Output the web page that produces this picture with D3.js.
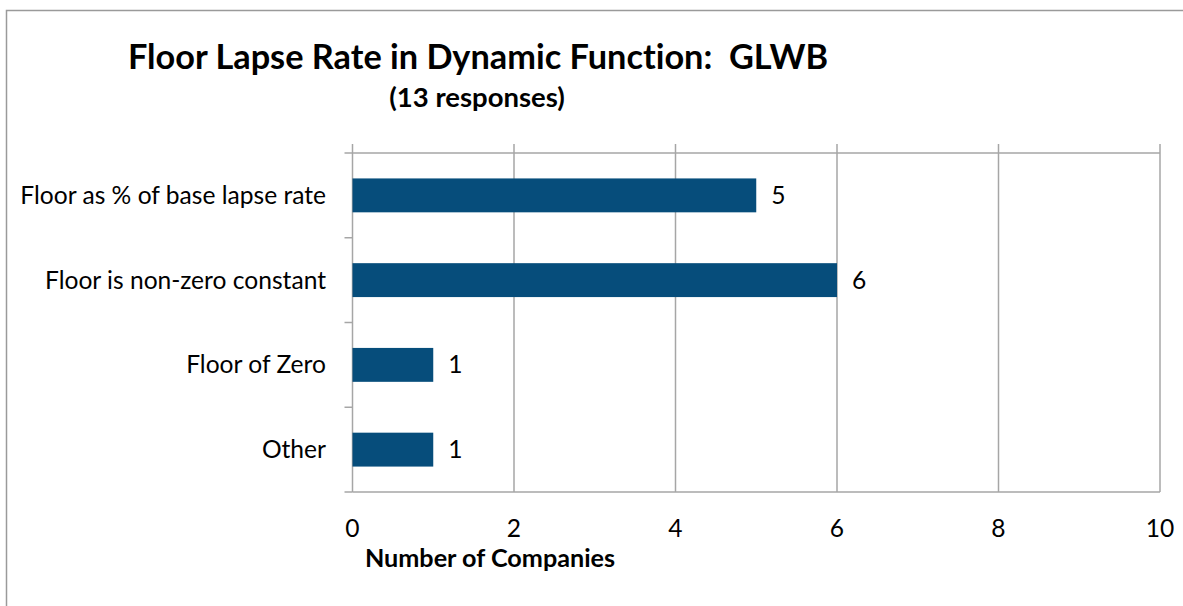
<!DOCTYPE html>
<html>
<head>
<meta charset="utf-8">
<script src="https://cdn.jsdelivr.net/npm/d3@7"></script>
<style>
  body { margin: 0; background: #fff; }
  svg text { font-family: Lato, "Open Sans", sans-serif; fill: #000; font-variant-ligatures: none; }
</style>
</head>
<body>
<div id="chart"></div>
<script>
const categories = ['Floor as % of base lapse rate', 'Floor is non-zero constant', 'Floor of Zero', 'Other'];
const counts = [5, 6, 1, 1];
const xTicks = [0, 2, 4, 6, 8, 10];
const title = 'Floor Lapse Rate in Dynamic Function:  GLWB';
const subtitle = '(13 responses)';
const xTitle = 'Number of Companies';

const width = 1183;
const height = 606;
const plotLeft = 352.5;
const plotRight = 1160;
const plotTop = 153;
const plotBottom = 492;
const gridColor = '#a6a6a6';
const barColor = '#064d7b';
const labelSize = 24.6;

const svg = d3.select('#chart')
    .append('svg')
    .attr('width', width)
    .attr('height', height);

// outer chart border (right and bottom edges fall outside the picture)
svg.append('path')
    .attr('d', `M6.5,${height + 5} V10.5 H${width + 5}`)
    .attr('fill', 'none')
    .attr('stroke', '#9a9a9a')
    .attr('stroke-width', 1.5);

const xScale = d3.scaleLinear()
    .domain([0, 10])
    .range([plotLeft, plotRight]);

const yScale = d3.scaleBand()
    .domain(categories)
    .range([plotTop, plotBottom])
    .paddingInner(0.6)
    .paddingOuter(0.3);

// vertical gridlines
svg.selectAll('.vgrid')
    .data(xTicks)
    .enter()
    .append('line')
    .attr('class', 'vgrid')
    .attr('x1', d => xScale(d))
    .attr('x2', d => xScale(d))
    .attr('y1', plotTop - 9)
    .attr('y2', plotBottom)
    .attr('stroke', gridColor)
    .attr('stroke-width', 1.5);

// top and bottom horizontal lines
svg.selectAll('.hline')
    .data([plotTop, plotBottom])
    .enter()
    .append('line')
    .attr('class', 'hline')
    .attr('x1', plotLeft)
    .attr('x2', plotRight)
    .attr('y1', d => d)
    .attr('y2', d => d)
    .attr('stroke', gridColor)
    .attr('stroke-width', 1.5);

// category tick marks
const bandEdges = categories.map(c => yScale(c) - yScale.step() * yScale.paddingInner() / 2);
bandEdges[0] = plotTop;
bandEdges.push(plotBottom);
svg.selectAll('.ytick')
    .data(bandEdges)
    .enter()
    .append('line')
    .attr('class', 'ytick')
    .attr('x1', plotLeft - 8)
    .attr('x2', plotLeft)
    .attr('y1', d => d)
    .attr('y2', d => d)
    .attr('stroke', gridColor)
    .attr('stroke-width', 1.5);

// bars
svg.selectAll('.bar')
    .data(counts)
    .enter()
    .append('rect')
    .attr('class', 'bar')
    .attr('x', xScale(0))
    .attr('y', (d, i) => yScale(categories[i]))
    .attr('width', d => xScale(d) - xScale(0))
    .attr('height', yScale.bandwidth())
    .attr('fill', barColor);

// value labels
svg.selectAll('.val')
    .data(counts)
    .enter()
    .append('text')
    .attr('class', 'val')
    .attr('x', d => xScale(d) + 15)
    .attr('y', (d, i) => yScale(categories[i]) + yScale.bandwidth() / 2)
    .attr('dy', '.35em')
    .attr('font-size', labelSize)
    .text(d => d);

// category labels
svg.selectAll('.cat')
    .data(categories)
    .enter()
    .append('text')
    .attr('class', 'cat')
    .attr('x', 326)
    .attr('y', d => yScale(d) + yScale.bandwidth() / 2)
    .attr('dy', '.35em')
    .attr('text-anchor', 'end')
    .attr('font-size', labelSize)
    .text(d => d);

// x tick labels
svg.selectAll('.xlab')
    .data(xTicks)
    .enter()
    .append('text')
    .attr('class', 'xlab')
    .attr('x', d => xScale(d))
    .attr('y', 537)
    .attr('text-anchor', 'middle')
    .attr('font-size', labelSize)
    .text(d => d);

svg.append('text')
    .attr('x', 490)
    .attr('y', 567)
    .attr('text-anchor', 'middle')
    .attr('font-size', 25.2)
    .attr('font-weight', 'bold')
    .text(xTitle);

svg.append('text')
    .attr('x', 478)
    .attr('y', 69)
    .attr('text-anchor', 'middle')
    .attr('font-size', 34.3)
    .attr('font-weight', 'bold')
    .style('white-space', 'pre')
    .text(title);

svg.append('text')
    .attr('x', 477)
    .attr('y', 107)
    .attr('text-anchor', 'middle')
    .attr('font-size', 27.5)
    .attr('font-weight', 'bold')
    .text(subtitle);
</script>
</body>
</html>
